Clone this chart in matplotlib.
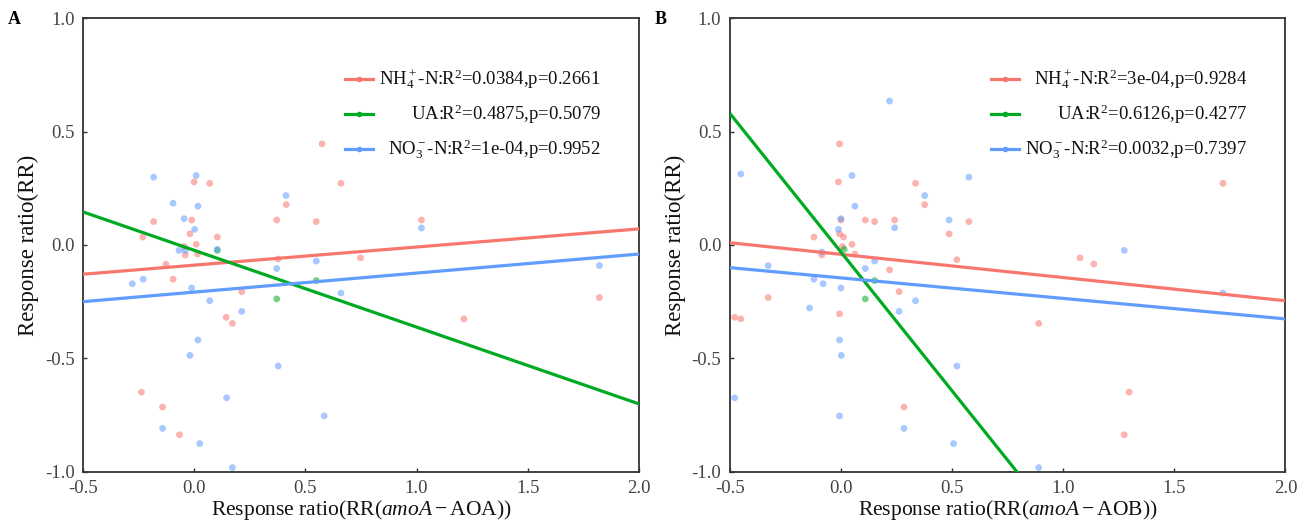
import numpy as np
import matplotlib
matplotlib.use("Agg")
import matplotlib.pyplot as plt

plt.rcParams['font.family'] = ['Liberation Serif', 'DejaVu Serif']
plt.rcParams['mathtext.fontset'] = 'custom'
plt.rcParams['mathtext.rm'] = 'Liberation Serif'
plt.rcParams['mathtext.it'] = 'Liberation Serif:italic'
plt.rcParams['mathtext.bf'] = 'Liberation Serif:bold'

# ---------------- data ----------------
series_names = ['NH4', 'UA', 'NO3']

A_nh4_x = [0.575, 0.07, 0.0, 0.66, 0.414, 0.371, 0.549, 1.022, -0.182, -0.011, -0.019, -0.231, 0.104, 0.009,
           -0.045, -0.04, 0.015, -0.127, 0.377, 0.748, -0.095, 0.214, 0.144, 0.172, 1.213, 1.822, -0.237, -0.142, -0.066]
A_nh4_y = [0.446, 0.272, 0.278, 0.272, 0.178, 0.110, 0.103, 0.110, 0.103, 0.110, 0.049, 0.035, 0.035, 0.003,
           -0.007, -0.044, -0.04, -0.085, -0.062, -0.057, -0.151, -0.206, -0.319, -0.346, -0.326, -0.232, -0.649, -0.715, -0.837]
A_no3_x = [-0.182, 0.009, -0.095, 0.017, 0.413, -0.045, 0.002, 1.022, -0.068, -0.04, 0.549, 0.371, 1.822, -0.278,
           -0.229, -0.011, 0.07, 0.66, 0.214, 0.017, -0.019, 0.378, 0.146, 0.585, -0.142, 0.025, 0.172, 0.104]
A_no3_y = [0.299, 0.306, 0.184, 0.171, 0.218, 0.116, 0.069, 0.075, -0.024, -0.024, -0.071, -0.104, -0.091, -0.171,
           -0.151, -0.19, -0.246, -0.212, -0.293, -0.419, -0.487, -0.534, -0.674, -0.754, -0.809, -0.876, -0.982, -0.019]
A_ua_x = [0.104, 0.371, 0.549]
A_ua_y = [-0.024, -0.238, -0.157]

B_nh4_x = [-0.006, -0.011, 0.336, 1.719, 0.377, 0.0, 0.11, 0.152, 0.242, 0.576, -0.006, 0.012, 0.487, -0.121,
           0.05, 0.007, -0.086, 0.063, 0.522, 1.076, 1.138, 0.219, 0.262, -0.327, -0.006, -0.478, -0.45, 0.89,
           1.297, 0.284, 1.275]
B_nh4_y = [0.446, 0.278, 0.272, 0.272, 0.178, 0.110, 0.110, 0.103, 0.110, 0.103, 0.049, 0.035, 0.049, 0.035,
           0.003, -0.007, -0.044, -0.04, -0.065, -0.057, -0.084, -0.11, -0.206, -0.232, -0.304, -0.319, -0.326, -0.346,
           -0.649, -0.715, -0.837]
B_no3_x = [0.219, -0.45, 0.05, 0.576, 0.377, 0.063, 0.0, 0.487, 0.242, -0.011, 1.275, -0.086, 0.152, -0.327,
           0.11, -0.121, -0.08, 0.0, 1.719, 0.336, -0.141, 0.262, -0.006, 0.002, 0.522, -0.478, -0.006, 0.284,
           0.507, 0.89]
B_no3_y = [0.635, 0.313, 0.306, 0.299, 0.218, 0.171, 0.116, 0.110, 0.076, 0.069, -0.024, -0.031, -0.071, -0.091,
           -0.104, -0.151, -0.171, -0.19, -0.212, -0.246, -0.278, -0.293, -0.419, -0.487, -0.534, -0.674, -0.754, -0.809,
           -0.876, -0.982]
B_ua_x = [0.015, 0.11, 0.152]
B_ua_y = [-0.019, -0.238, -0.157]

# fitted regression lines (intercept, slope)
A_fit_intercept = [-0.089, -0.0234, -0.208]
A_fit_slope = [0.080, -0.3388, 0.084]
B_fit_intercept = [-0.0412, -0.031, -0.1452]
B_fit_slope = [-0.1024, -1.224, -0.0904]

A_labels = [r'NH$_4^+$-N:R$^2$=0.0384,p=0.2661',
            r'UA:R$^2$=0.4875,p=0.5079',
            r'NO$_3^-$-N:R$^2$=1e-04,p=0.9952']
B_labels = [r'NH$_4^+$-N:R$^2$=3e-04,p=0.9284',
            r'UA:R$^2$=0.6126,p=0.4277',
            r'NO$_3^-$-N:R$^2$=0.0032,p=0.7397']

xticks = [-0.5, 0.0, 0.5, 1.0, 1.5, 2.0]
yticks = [-1.0, -0.5, 0.0, 0.5, 1.0]

colors = ['#F8766D', '#00AA22', '#619CFF']

# ---------------- plot ----------------
fig = plt.figure(figsize=(12.98, 5.23), dpi=100)
axA = fig.add_axes([0.0639, 0.0981, 0.4284, 0.867])
axB = fig.add_axes([0.5622, 0.0981, 0.4281, 0.867])

panels = [
    (axA, [(A_nh4_x, A_nh4_y), (A_ua_x, A_ua_y), (A_no3_x, A_no3_y)], A_fit_intercept, A_fit_slope, A_labels,
     r'Response ratio(RR($\mathit{amoA}-\mathrm{AOA}$))', 'A'),
    (axB, [(B_nh4_x, B_nh4_y), (B_ua_x, B_ua_y), (B_no3_x, B_no3_y)], B_fit_intercept, B_fit_slope, B_labels,
     r'Response ratio(RR($\mathit{amoA}-\mathrm{AOB}$))', 'B'),
]

for ax, pts, icpt, slope, labels, xlabel, letter in panels:
    for (x, y), c in zip(pts, colors):
        ax.scatter(x, y, s=24, color=c, alpha=0.55, edgecolors='none', zorder=2)
    xx = np.array([xticks[0], xticks[-1]])
    for b, m, c in zip(icpt, slope, colors):
        ax.plot(xx, b + m * xx, color=c, lw=2.3, zorder=3, solid_capstyle='butt')
    ax.set_xlim(-0.5, 2.0)
    ax.set_ylim(-1.0, 1.0)
    ax.set_xticks(xticks)
    ax.set_yticks(yticks)
    ax.set_xticklabels([f'{t:.1f}' for t in xticks])
    ax.set_yticklabels([f'{t:.1f}' for t in yticks])
    ax.tick_params(direction='in', length=3, width=1, colors='#333333', labelsize=13.5, pad=6,
                   labelcolor='#444444')
    for sp in ax.spines.values():
        sp.set_linewidth(1.3)
        sp.set_color('#333333')
    ax.set_xlabel(xlabel, fontsize=15.5, labelpad=0, color='#111111')
    ax.xaxis.set_label_coords(0.5, -0.057)
    ax.set_ylabel('Response ratio(RR)', fontsize=16.5, labelpad=4, color='#111111')

    # legend (right-aligned text, as in reference)
    rows_y = [0.866, 0.789, 0.711]
    for ry, c, lab in zip(rows_y, colors, labels):
        ax.plot([0.471, 0.521], [ry, ry], transform=ax.transAxes, color=c, lw=2.3, zorder=5,
                clip_on=False)
        ax.plot([0.496], [ry], transform=ax.transAxes, color=c, marker='o', ms=3, zorder=6,
                clip_on=False)
        ax.text(0.931, ry, lab, transform=ax.transAxes, ha='right', va='center', fontsize=13.5,
                color='#111111')

fig.text(8 / 1298, 1 - 20 / 523, 'A', fontsize=13, fontweight='bold', va='center', ha='left')
fig.text(655 / 1298, 1 - 20 / 523, 'B', fontsize=13, fontweight='bold', va='center', ha='left')

fig.savefig('out.png', dpi=100)
